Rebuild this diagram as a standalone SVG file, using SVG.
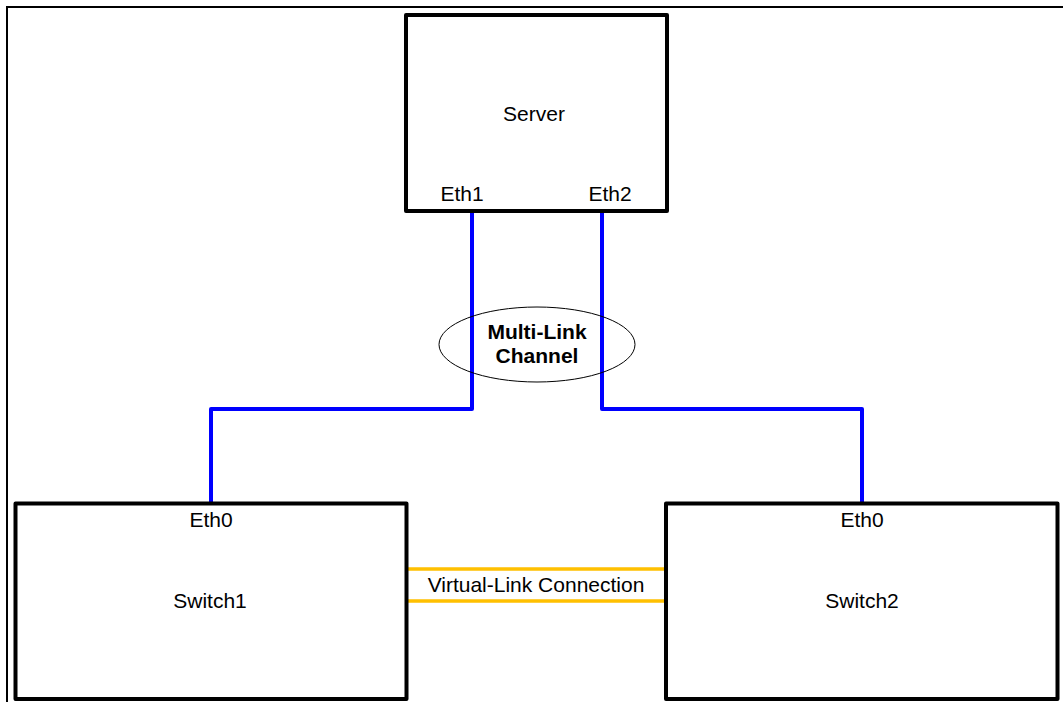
<svg xmlns="http://www.w3.org/2000/svg" width="1063" height="702" viewBox="0 0 1063 702">
  <style>
    .box { fill: #ffffff; stroke: #000000; stroke-width: 4; stroke-linejoin: round; }
    .lbl { font-family: "Liberation Sans", Arial, sans-serif; font-size: 21px; fill: #000000; text-anchor: middle; }
    .bold { font-weight: bold; }
    .eth { fill: none; stroke: #0000ff; stroke-width: 4; stroke-linejoin: round; }
    .vlink { fill: none; stroke: #ffc000; stroke-width: 3.5; stroke-linecap: round; }
    .frame { fill: none; stroke: #000000; stroke-width: 2; }
  </style>
  <rect width="1063" height="702" fill="#ffffff"/>

  <!-- page frame: top and left edges only -->
  <path class="frame" d="M7,702 V7 H1063"/>

  <g id="connectors">
    <!-- Eth1 to Switch1 Eth0 -->
    <path class="eth" d="M472,211 V409 H211 V503"/>
    <!-- Eth2 to Switch2 Eth0 -->
    <path class="eth" d="M602,211 V409 H862 V503"/>
    <!-- virtual link between switches -->
    <line class="vlink" x1="406" y1="569" x2="666" y2="569"/>
    <line class="vlink" x1="406" y1="601" x2="666" y2="601"/>
    <text class="lbl" x="536" y="592">Virtual-Link Connection</text>
  </g>

  <g id="server">
    <rect class="box" x="406" y="15" width="261" height="196"/>
    <text class="lbl" x="534" y="121">Server</text>
    <text class="lbl" x="462" y="201">Eth1</text>
    <text class="lbl" x="610" y="201">Eth2</text>
  </g>

  <g id="multi-link-channel">
    <ellipse cx="537" cy="344.5" rx="98" ry="37.5" fill="none" stroke="#000000" stroke-width="1"/>
    <text class="lbl bold" x="537" y="339">Multi-Link</text>
    <text class="lbl bold" x="537" y="363">Channel</text>
  </g>

  <g id="switch1">
    <rect class="box" x="15.5" y="503.5" width="391" height="195.5"/>
    <text class="lbl" x="211" y="527">Eth0</text>
    <text class="lbl" x="210" y="608">Switch1</text>
  </g>

  <g id="switch2">
    <rect class="box" x="666" y="503.5" width="391.5" height="195.5"/>
    <text class="lbl" x="862" y="527">Eth0</text>
    <text class="lbl" x="862" y="608">Switch2</text>
  </g>
</svg>
